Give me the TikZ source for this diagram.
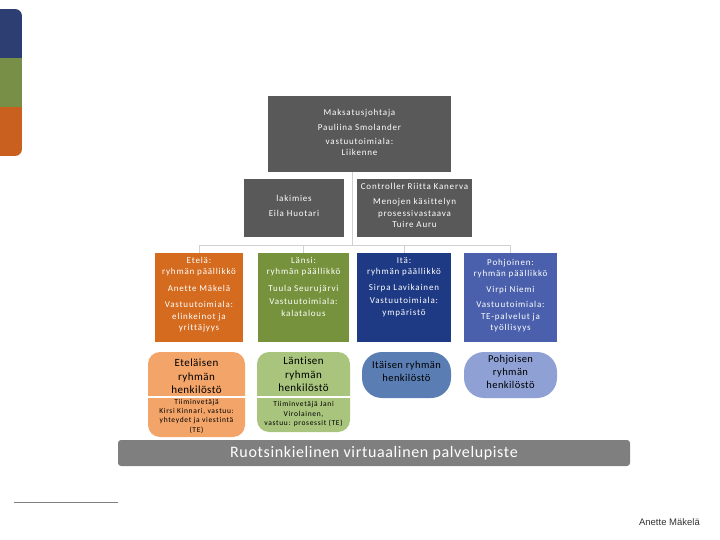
\documentclass[tikz,border=0pt]{standalone}
\usepackage{fontspec}
\setmainfont{Carlito}[Ligatures=NoCommon]
\newfontfamily\spf{Carlito}[LetterSpace=9,Ligatures=NoCommon]
\newfontfamily\bigf{Carlito}[LetterSpace=4,Ligatures=NoCommon]
\newfontfamily\arialf{Liberation Sans}
\definecolor{topgray}{HTML}{595959}
\definecolor{lineg}{HTML}{D0D0D0}
\definecolor{barb}{HTML}{2D3E72}
\definecolor{barg}{HTML}{778F47}
\definecolor{baro}{HTML}{C96020}
\definecolor{etel}{HTML}{D46B1E}
\definecolor{lans}{HTML}{76923C}
\definecolor{ita}{HTML}{1E3A84}
\definecolor{pohj}{HTML}{4A60AC}
\definecolor{etell}{HTML}{F3A469}
\definecolor{lansl}{HTML}{A8C47D}
\definecolor{ital}{HTML}{5A7DB3}
\definecolor{pohjl}{HTML}{8EA0D4}
\definecolor{bargray}{HTML}{7F7F7F}
\begin{document}
\begin{tikzpicture}[x=1pt,y=-1pt,
  boxn/.style={inner sep=0pt, outer sep=0pt, draw=none},
  wtxt/.style={inner sep=0pt, text=white, align=center, font=\spf\fontsize{9}{11.5}\selectfont},
  bigtxt/.style={inner sep=0pt, text=black, align=center, font=\bigf\fontsize{11}{13.5}\selectfont},
  smtxt/.style={inner sep=0pt, text=black, align=center, font=\spf\fontsize{7.5}{9.3}\selectfont},
  conn/.style={draw=lineg, line width=0.9pt}
]
\useasboundingbox (0,0) rectangle (720,540);
% left colour bar
\begin{scope}
  \clip[rounded corners=7pt] (-20,9) rectangle (22,156);
  \fill[barb] (-20,9) rectangle (22,58);
  \fill[barg] (-20,58) rectangle (22,107);
  \fill[baro] (-20,107) rectangle (22,156);
\end{scope}
% connectors
\coordinate (vtop) at (352,172);
\coordinate (hmid) at (352,245);
\coordinate (hl) at (199,245);
\coordinate (hr) at (510,245);
% top box
\node[boxn, fill=topgray, minimum width=183pt, minimum height=76pt] (top) at (359.5,134) {};
\node[wtxt, anchor=north] (toptxt) at (359.5,109) {Maksatusjohtaja\\[3.5pt]Pauliina Smolander\\[2.5pt]vastuutoimiala:\\Liikenne};
% second row
\node[boxn, fill=topgray, minimum width=100pt, minimum height=58pt] (lak) at (294,208) {};
\node[wtxt, anchor=north] (laktxt) at (294,195) {lakimies\\[3.5pt]Eila Huotari};
\node[boxn, fill=topgray, minimum width=115pt, minimum height=58pt] (ctrl) at (414.5,208) {};
\node[wtxt, anchor=north] (ctrltxt) at (414.5,183) {Controller Riitta Kanerva\\[4pt]Menojen käsittelyn\\prosessivastaava\\Tuire Auru};
\draw[conn] (top.south -| vtop) -- (hmid);
\draw[conn] (hl) -- (hr);
% group leader boxes
\node[boxn, fill=etel, minimum width=88pt, minimum height=89pt] (ete) at (199,297.5) {};
\node[wtxt, anchor=north] (etetxt) at (199,257) {Etelä:\\ryhmän päällikkö\\[5pt]Anette Mäkelä\\[5pt]Vastuutoimiala:\\elinkeinot ja\\yrittäjyys};
\node[boxn, fill=lans, minimum width=91pt, minimum height=89pt] (lan) at (303.5,297.5) {};
\node[wtxt, anchor=north] (lantxt) at (303.5,257) {Länsi:\\ryhmän päällikkö\\[5pt]Tuula Seurujärvi\\[2pt]Vastuutoimiala:\\kalatalous};
\node[boxn, fill=ita, minimum width=94pt, minimum height=89pt] (it) at (404,297.5) {};
\node[wtxt, anchor=north] (ittxt) at (404,257) {Itä:\\ryhmän päällikkö\\[4pt]Sirpa Lavikainen\\[2pt]Vastuutoimiala:\\ympäristö};
\node[boxn, fill=pohj, minimum width=93pt, minimum height=89pt] (poh) at (510.5,297.5) {};
\node[wtxt, anchor=north] (pohtxt) at (510.5,259) {Pohjoinen:\\ryhmän päällikkö\\[4pt]Virpi Niemi\\[4pt]Vastuutoimiala:\\TE-palvelut ja\\työllisyys};
\foreach \b/\x in {ete/199, lan/303.5, it/404, poh/510.5}
  \draw[conn] (\x,245) -- (\b.north);
% staff shapes
\fill[etell, rounded corners=12pt] (148,352) rectangle (245,437);
\node[boxn, minimum width=97pt, minimum height=85pt] (etes) at (196.5,394.5) {};
\draw[white, line width=1.2pt] (148,397) -- (245,397);
\node[bigtxt, anchor=north] (etestxt) at (196.5,359) {Eteläisen\\ryhmän\\henkilöstö};
\node[smtxt, anchor=north] (etessm) at (196.5,399) {Tiiminvetäjä\\Kirsi Kinnari, vastuu:\\yhteydet ja viestintä\\(TE)};
\fill[lansl, rounded corners=12pt] (257,352) rectangle (350,432);
\node[boxn, minimum width=93pt, minimum height=80pt] (lans) at (303.5,392) {};
\draw[white, line width=1.2pt] (257,397) -- (350,397);
\node[bigtxt, anchor=north] (lanstxt) at (303.5,357) {Läntisen\\ryhmän\\henkilöstö};
\node[smtxt, anchor=north] (lanssm) at (303.5,401.5) {Tiiminvetäjä Jani\\Virolainen,\\vastuu: prosessit (TE)};
\node[boxn, fill=ital, rounded corners=20pt, minimum width=89pt, minimum height=46pt] (its) at (406.5,375) {};
\node[bigtxt, anchor=north, font=\bigf\fontsize{10.5}{13}\selectfont] (itstxt) at (406.5,361.5) {Itäisen ryhmän\\henkilöstö};
\node[boxn, fill=pohjl, rounded corners=20pt, minimum width=93pt, minimum height=46pt] (pohs) at (510.5,375) {};
\node[bigtxt, anchor=north, font=\bigf\fontsize{10.5}{13}\selectfont] (pohstxt) at (510.5,355.5) {Pohjoisen\\ryhmän\\henkilöstö};
% bottom bar
\node[boxn, fill=bargray, rounded corners=3pt, minimum width=512pt, minimum height=26pt] (bar) at (374,453) {};
\node[inner sep=0pt, text=white, font=\bigf\fontsize{16}{18}\selectfont] (bartxt) at (374,453.5) {Ruotsinkielinen virtuaalinen palvelupiste};
% footer
\coordinate (fl) at (14,502);
\coordinate (fr) at (118,502);
\draw[draw=gray, line width=0.8pt] (fl) -- (fr);
\node[inner sep=0pt, anchor=east, text=black!80, font=\arialf\fontsize{9.5}{11}\selectfont] (author) at (700,522) {Anette Mäkelä};
\end{tikzpicture}
\end{document}
